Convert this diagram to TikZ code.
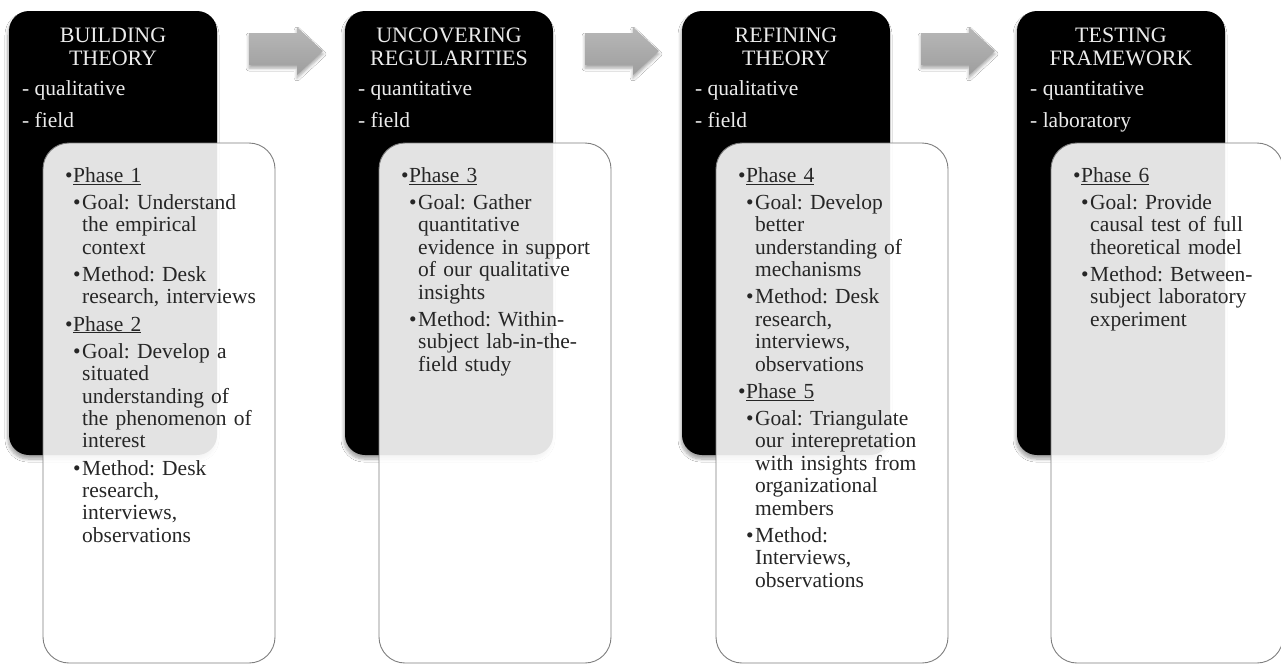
\documentclass[tikz,border=0pt]{standalone}
\usepackage{fontspec}
\setmainfont{Liberation Serif}
\usetikzlibrary{shadows.blur}
\frenchspacing
\definecolor{txtgray}{HTML}{262626}
\definecolor{boxline}{HTML}{7F7F7F}
\newlength\lvlgap \setlength\lvlgap{4.8pt}
\newcommand\PHfirst[1]{\frenchspacing\rightskip=0pt plus 1fill\noindent\vrule height 16pt depth 0pt width 0pt\hspace*{22pt}\makebox[8pt][l]{\textbullet}\underline{#1}\par}
\newcommand\PH[1]{\vspace{\lvlgap}\noindent\hspace*{22pt}\makebox[8pt][l]{\textbullet}\underline{#1}\par}
\newcommand\IT[1]{\vspace{\lvlgap}\noindent\hangindent=39pt\hangafter=1\hspace*{30pt}\makebox[9pt][l]{\textbullet}#1\par}
\tikzset{
  blackbox/.style={fill=black, rounded corners=20pt, blur shadow={shadow xshift=-1pt, shadow yshift=-4pt, shadow blur radius=3pt, shadow blur steps=8, shadow opacity=35}},
  whitebox/.style={fill=white, fill opacity=0.89, draw=boxline, line width=0.9pt, rounded corners=26pt},
  headtxt/.style={text=white!92!black, font=\fontsize{22}{23}\selectfont, align=center, inner sep=0pt, anchor=base},
  subtxt/.style={text=white!92!black, font=\fontsize{21.5}{22}\selectfont, inner sep=0pt, anchor=base west},
  listtxt/.style={text=txtgray, font=\fontsize{21.5}{22.4}\selectfont\frenchspacing, text width=260pt, align=left, inner sep=0pt, anchor=north west},
  grayarrow/.style={top color=black!28, bottom color=black!38, draw=none, blur shadow={shadow xshift=0pt, shadow yshift=-3pt, shadow blur radius=3pt, shadow opacity=35}}
}
\begin{document}
\begin{tikzpicture}[x=1pt,y=-1pt]
\useasboundingbox (0,0) rectangle (1281,665);
\fill[white] (0,0) rectangle (1281,665);

% arrows
\foreach \dx in {0,336,672}{
  \begin{scope}[xshift=\dx pt]
  \path[grayarrow] (249,33) -- (297,33) -- (297,27) -- (323,51) -- (297,75) -- (297,65) -- (249,65) -- cycle;
  \end{scope}
}

% black boxes
\foreach \dx in {0,336,673,1008}{
  \path[blackbox] (9+\dx,11) rectangle (217+\dx,455);
}

% headings
\node[headtxt] (h1) at (113,42) {BUILDING};
\node[headtxt] (h1b) at (113,65) {THEORY};
\node[headtxt] (h2) at (449,42) {UNCOVERING};
\node[headtxt] (h2b) at (449,65) {REGULARITIES};
\node[headtxt] (h3) at (786,42) {REFINING};
\node[headtxt] (h3b) at (786,65) {THEORY};
\node[headtxt] (h4) at (1121,42) {TESTING};
\node[headtxt] (h4b) at (1121,65) {FRAMEWORK};

\node[subtxt] (s1a) at (22,95) {- qualitative};
\node[subtxt] (s1b) at (22,127) {- field};
\node[subtxt] (s2a) at (358,95) {- quantitative};
\node[subtxt] (s2b) at (358,127) {- field};
\node[subtxt] (s3a) at (695,95) {- qualitative};
\node[subtxt] (s3b) at (695,127) {- field};
\node[subtxt] (s4a) at (1030,95) {- quantitative};
\node[subtxt] (s4b) at (1030,127) {- laboratory};

% white boxes
\foreach \dx in {0,336,673,1008}{
  \path[whitebox] (43+\dx,143) rectangle (275+\dx,663);
}

% list texts
\node[listtxt] (t1) at (43,166) {%
\PHfirst{Phase 1}
\IT{Goal: Understand\newline the empirical\newline context}
\IT{Method: Desk\newline research, interviews}
\PH{Phase 2}
\IT{Goal: Develop a\newline situated\newline understanding of\newline the phenomenon of\newline interest}
\IT{Method: Desk\newline research,\newline interviews,\newline observations}};

\node[listtxt] (t2) at (379,166) {%
\PHfirst{Phase 3}
\IT{Goal: Gather\newline quantitative\newline evidence in support\newline of our qualitative\newline insights}
\IT{Method: Within-\newline subject lab-in-the-\newline field study}};

\node[listtxt] (t3) at (716,166) {%
\PHfirst{Phase 4}
\IT{Goal: Develop\newline better\newline understanding of\newline mechanisms}
\IT{Method: Desk\newline research,\newline interviews,\newline observations}
\PH{Phase 5}
\IT{Goal: Triangulate\newline our interepretation\newline with insights from\newline organizational\newline members}
\IT{Method:\newline Interviews,\newline observations}};

\node[listtxt] (t4) at (1051,166) {%
\PHfirst{Phase 6}
\IT{Goal: Provide\newline causal test of full\newline theoretical model}
\IT{Method: Between-\newline subject laboratory\newline experiment}};
\end{tikzpicture}
\end{document}
